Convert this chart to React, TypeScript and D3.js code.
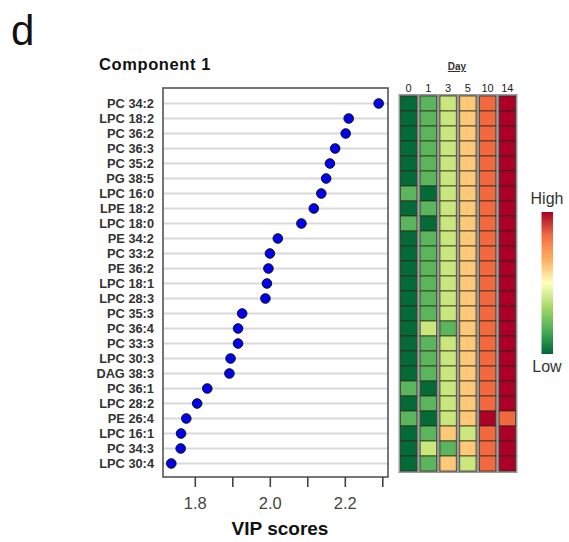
import React from "react";
import * as d3 from "d3";

const lipids = ["PC 34:2","LPC 18:2","PC 36:2","PC 36:3","PC 35:2","PG 38:5","LPC 16:0","LPE 18:2","LPC 18:0","PE 34:2","PC 33:2","PE 36:2","LPC 18:1","LPC 28:3","PC 35:3","PC 36:4","PC 33:3","LPC 30:3","DAG 38:3","PC 36:1","LPC 28:2","PE 26:4","LPC 16:1","PC 34:3","LPC 30:4"];
const vipScores = [2.289,2.209,2.201,2.173,2.159,2.149,2.136,2.116,2.083,2.020,1.999,1.995,1.991,1.987,1.925,1.914,1.914,1.894,1.891,1.832,1.805,1.776,1.762,1.761,1.736];
const days = ["0","1","3","5","10","14"];
// heat levels (0 = low ... 5 = high) per lipid, per day
const heatLevels = [
  [0,1,2,3,4,5],[0,1,2,3,4,5],[0,1,2,3,4,5],[0,1,2,3,4,5],[0,1,2,3,4,5],
  [0,1,2,3,4,5],[1,0,2,3,4,5],[0,1,2,3,4,5],[1,0,2,3,4,5],[0,1,2,3,4,5],
  [0,1,2,3,4,5],[0,1,2,3,4,5],[0,1,2,3,4,5],[0,1,2,3,4,5],[0,1,2,3,4,5],
  [0,2,1,3,4,5],[0,1,2,3,4,5],[0,1,2,3,4,5],[0,1,2,3,4,5],[1,0,2,3,4,5],
  [0,1,2,3,4,5],[1,0,2,3,5,4],[0,1,3,2,4,5],[0,2,1,3,4,5],[0,1,3,2,4,5],
];
const xTicks = [1.8,1.9,2.0,2.1,2.2,2.3];
const xTickLabels = [1.8,2.0,2.2];
const palette = ["#046a38","#5bb55c","#c9e77d","#fdc878","#f2683f","#ac0028"];
const gradientStops = ["#006837","#4dae55","#a6d96a","#ffffbf","#fdae61","#f46d43","#a50026"];

export default function App() {
  const W = 569, H = 542;
  const box = { l: 163, r: 388, t: 88, b: 477 };
  const x = d3.scaleLinear().domain([2.0, 2.2]).range([270.3, 345.3]);
  const y = d3.scaleBand<string>().domain(lipids).range([96, 471]);
  const hx = d3.scaleBand<string>().domain(days).range([400.5, 515.5]).paddingInner(0.17).paddingOuter(0.0);
  const font = "Liberation Sans, Arial, sans-serif";
  const cbY = d3.scaleLinear().domain([0, 1]).range([354, 212]);
  return (
    <svg width={W} height={H} style={{ position: "absolute", left: 0, top: 0 }} fontFamily={font}>
      <defs>
        <linearGradient id="cb" x1="0" y1="1" x2="0" y2="0">
          {gradientStops.map((c, i) => (
            <stop key={i} offset={i / (gradientStops.length - 1)} stopColor={c} />
          ))}
        </linearGradient>
      </defs>
      <rect width={W} height={H} fill="#fff" />
      <text x={11} y={45} fontSize={42} fill="#111">d</text>
      <text x={99} y={70} fontSize={16.5} fontWeight="bold" fill="#111" letterSpacing={0.6}>Component 1</text>
      {/* gridlines */}
      {lipids.map((l) => (
        <line key={l} x1={box.l} x2={box.r} y1={y(l)! + y.bandwidth() / 2} y2={y(l)! + y.bandwidth() / 2} stroke="#d9d9d9" strokeWidth={1.8} />
      ))}
      <rect x={box.l} y={box.t} width={box.r - box.l} height={box.b - box.t} fill="none" stroke="#555" strokeWidth={1.6} />
      {lipids.map((l) => (
        <text key={l} x={154} y={y(l)! + y.bandwidth() / 2 + 4.5} fontSize={12.8} fontWeight="bold" textAnchor="end" fill="#333">{l}</text>
      ))}
      {lipids.map((l, i) => (
        <circle key={l} cx={x(vipScores[i])} cy={y(l)! + y.bandwidth() / 2} r={4.8} fill="#0000ee" stroke="#111" strokeWidth={1} />
      ))}
      {xTicks.map((t) => (
        <line key={t} x1={x(t)} x2={x(t)} y1={box.b} y2={box.b + 10} stroke="#444" strokeWidth={1.6} />
      ))}
      {xTickLabels.map((t) => (
        <text key={t} x={x(t)} y={509} fontSize={16.5} textAnchor="middle" fill="#444">{t.toFixed(1)}</text>
      ))}
      <text x={280} y={535} fontSize={19} fontWeight="bold" textAnchor="middle" fill="#111">VIP scores</text>
      {/* heatmap */}
      <text x={457} y={70} fontSize={10} fontWeight="bold" textAnchor="middle" fill="#333" textDecoration="underline">Day</text>
      {days.map((d) => (
        <text key={d} x={hx(d)! + hx.bandwidth() / 2} y={92} fontSize={11} textAnchor="middle" fill="#222">{d}</text>
      ))}
      {days.map((d) => (
        <rect key={d} x={hx(d)! - 1} y={95} width={hx.bandwidth() + 2} height={377} fill="none" stroke="#9a9a9a" strokeWidth={2} />
      ))}
      {lipids.map((l, i) =>
        days.map((d, j) => (
          <rect key={l + d} x={hx(d)!} y={y(l)!} width={hx.bandwidth()} height={y.bandwidth()} fill={palette[heatLevels[i][j]]} stroke="#2a2a1a" strokeOpacity={0.75} strokeWidth={1} />
        ))
      )}
      {/* color key */}
      <text x={547} y={204} fontSize={16} textAnchor="middle" fill="#333">High</text>
      <rect x={541.5} y={cbY(1)} width={11.5} height={cbY(0) - cbY(1)} fill="url(#cb)" />
      <text x={547} y={372} fontSize={16} textAnchor="middle" fill="#333">Low</text>
    </svg>
  );
}
